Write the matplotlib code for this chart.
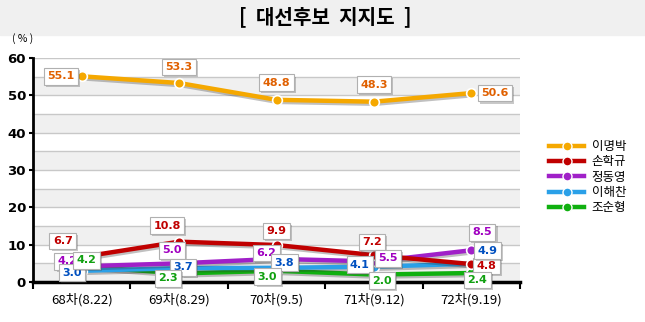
import matplotlib
matplotlib.use("Agg")
import matplotlib.pyplot as plt
import matplotlib.patheffects as pe
from matplotlib.lines import Line2D
from matplotlib.patches import Rectangle

plt.rcParams['font.family'] = ['Noto Sans CJK KR', 'DejaVu Sans']

TITLE = "[  대선후보  지지도  ]"
ROUNDS = ["68차(8.22)", "69차(8.29)", "70차(9.5)", "71차(9.12)", "72차(9.19)"]
NAMES = ["이명박", "손학규", "정동영", "이해찬", "조순형"]
LEE_MB = [55.1, 53.3, 48.8, 48.3, 50.6]
SOHN = [6.7, 10.8, 9.9, 7.2, 4.8]
CHUNG = [4.2, 5.0, 6.2, 5.5, 8.5]
LEE_HC = [3.0, 3.7, 3.8, 4.1, 4.9]
CHO = [4.2, 2.3, 3.0, 2.0, 2.4]
SERIES = [LEE_MB, SOHN, CHUNG, LEE_HC, CHO]

LINE_COLORS = ["#f5a800", "#c00000", "#a020c8", "#2aa0e8", "#10b010"]
TEXT_COLORS = ["#e06000", "#c00000", "#a000c0", "#0050c0", "#10a010"]
# label offsets (pixels) for each point
OFFSETS = [
    [(-21, 0), (0, 16), (0, 17), (0, 17), (24, 0)],
    [(-19, 16), (-12, 16), (0, 14), (-2, 13), (15, -2)],
    [(-14, 5), (-7, 13), (-10, 6), (14, 3), (11, 18)],
    [(-10, -2), (4, 1), (8, 5), (-14, 2), (16, 13)],
    [(5, 6), (-11, -5), (-9, -6), (8, -6), (6, -7)],
]

fig = plt.figure(figsize=(6.45, 3.22), dpi=100)
fig.patches.append(Rectangle((0, 1 - 35 / 322), 1, 35 / 322, transform=fig.transFigure,
                             color="#f0f0f0", zorder=0))
fig.text(0.505, 1 - 17 / 322, TITLE, ha="center", va="center", fontsize=14.5, fontweight="bold")
fig.text(12 / 645, 1 - 39 / 322, "( % )", ha="left", va="center", fontsize=7.5)

ax = fig.add_axes([33 / 645, 40 / 322, 487 / 645, 224 / 322])
ax.set_xlim(-0.5, 4.5)
ax.set_ylim(0, 60)
for lo in range(0, 60, 10):
    ax.axhspan(lo, lo + 5, color="#f0f0f0", zorder=0, lw=0)
for yv in range(5, 61, 5):
    ax.axhline(yv, color="#c8c8c8", lw=1, zorder=1)

x = list(range(len(ROUNDS)))
shadow = [pe.SimpleLineShadow(offset=(1, -1.5), shadow_color="#303030", alpha=0.3), pe.Normal()]
for i, vals in enumerate(SERIES):
    z = 3 + (5 - i) * 0.1
    ax.plot(x, vals, color=LINE_COLORS[i], lw=3.2, zorder=z,
            path_effects=shadow, solid_capstyle="round")
    ax.plot(x, vals, ls="none", marker="o", ms=7, color=LINE_COLORS[i],
            markeredgecolor="white", markeredgewidth=1.2, zorder=z + 0.05)

for i, vals in enumerate(SERIES):
    for j, v in enumerate(vals):
        ax.annotate(f"{v:.1f}", (j, v), xytext=OFFSETS[i][j], textcoords="offset pixels",
                    ha="center", va="center", fontsize=8, fontweight="bold",
                    color=TEXT_COLORS[i], family=["DejaVu Sans"], zorder=10,
                    bbox=dict(boxstyle="square,pad=0.3", fc="white", ec="#b0b0b0", lw=0.8,
                              path_effects=[pe.SimplePatchShadow(offset=(1.5, -1.5), alpha=0.3), pe.Normal()]))

ax.set_yticks(range(0, 61, 10))
ax.set_yticklabels([str(t) for t in range(0, 61, 10)], fontsize=9.5, fontweight="bold",
                   family=["DejaVu Sans"])
ax.set_xticks(x)
ax.set_xticklabels(ROUNDS, fontsize=9.5)
ax.tick_params(axis="x", length=0, pad=8)
ax.set_xticks([k - 0.5 for k in range(len(ROUNDS) + 1)], minor=True)
ax.tick_params(axis="x", which="minor", length=5, width=1.5, direction="out")
ax.tick_params(axis="y", length=3, width=1.5, pad=2)
for s in ["top", "right"]:
    ax.spines[s].set_visible(False)
ax.spines["left"].set_linewidth(2)
ax.spines["bottom"].set_linewidth(2.5)

handles = [Line2D([0], [0], color=c, lw=3.2, marker="o", ms=6.5, markeredgecolor="white",
                  markeredgewidth=1) for c in LINE_COLORS]
fig.legend(handles, NAMES, loc="upper left", bbox_to_anchor=(538 / 645, 1 - 129 / 322),
           frameon=False, fontsize=9, handlelength=2.8, labelspacing=0.18, handletextpad=0.6)

fig.savefig("out.png", dpi=100)
